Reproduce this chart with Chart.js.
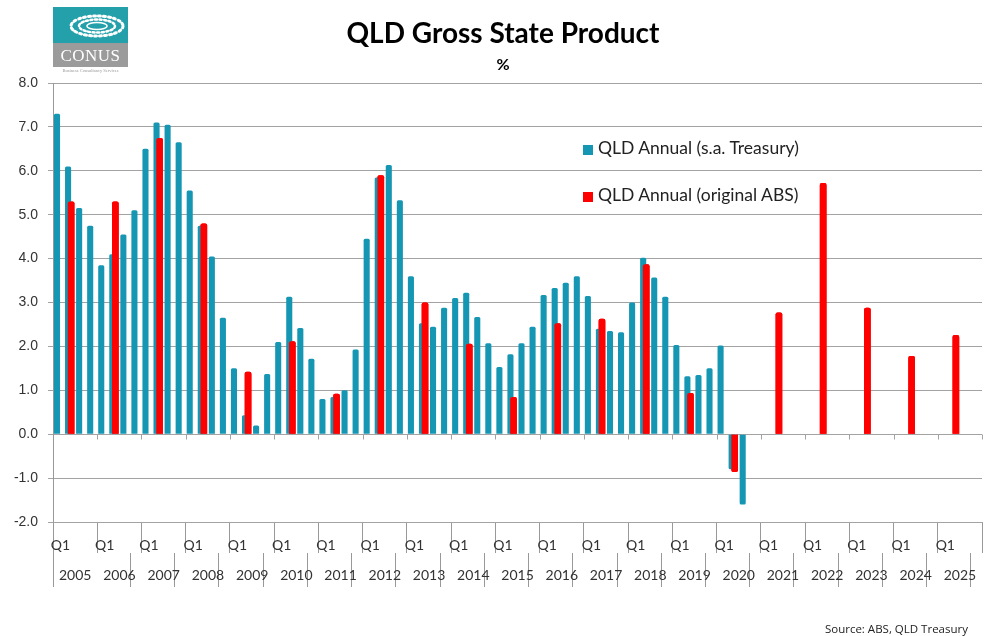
<!DOCTYPE html>
<html>
<head>
<meta charset="utf-8">
<script src="https://cdn.jsdelivr.net/npm/chart.js@4.4.1/dist/chart.umd.min.js"></script>
<style>
html,body{margin:0;padding:0;background:#fff;}
#wrap{position:relative;width:991px;height:636px;overflow:hidden;font-family:Lato,"Open Sans",sans-serif;}
#c{position:absolute;left:0;top:0;}
#title{position:absolute;left:253px;width:500px;top:15px;text-align:center;font-weight:bold;font-size:28px;color:#000;line-height:34px;}
#sub{position:absolute;left:453px;width:100px;top:54px;text-align:center;font-weight:bold;font-size:16px;color:#000;line-height:20px;}
#legend{position:absolute;left:583px;top:136px;}
.li{position:absolute;left:0;white-space:nowrap;font-size:17.5px;color:#222;line-height:24px;height:24px;}
.li span.sw{display:inline-block;width:10px;height:10px;margin-right:5px;vertical-align:-1px;}
#source{position:absolute;right:23px;top:621px;font-size:11.5px;color:#222;font-family:"Open Sans",Lato,sans-serif;}
#logo{position:absolute;left:53px;top:7px;width:75px;}
#logo .top{height:36px;background:#24a0ab;}
#logo .mid{height:24px;background:#9b9b9b;color:#fff;font-family:"Liberation Serif",serif;font-size:17px;text-align:center;line-height:25px;letter-spacing:0.5px;}
#logo .tag{font-size:4.5px;color:#999;text-align:center;line-height:8px;font-family:"Liberation Serif",serif;}
</style>
</head>
<body>
<div id="wrap">
<canvas id="c" width="991" height="636"></canvas>
<div id="title">QLD Gross State Product</div>
<div id="sub">%</div>
<div id="legend"></div>
<div id="source">Source: ABS, QLD Treasury</div>
<div id="logo">
  <div class="top"><svg width="75" height="36" viewBox="0 0 75 36">
    <g fill="none" stroke="#fff" stroke-linecap="round">
      <ellipse cx="44" cy="19" rx="26" ry="10" stroke-width="3" stroke-dasharray="2 3"/>
      <ellipse cx="44" cy="19" rx="18" ry="6.5" stroke-width="2.5" stroke-dasharray="2 2.5"/>
      <ellipse cx="44" cy="19" rx="10" ry="3.5" stroke-width="1.5"/>
    </g></svg></div>
  <div class="mid">CONUS</div>
  <div class="tag">Business Consultancy Services</div>
</div>
</div>
<script>
// ---- data ----
const years = ['2005','2006','2007','2008','2009','2010','2011','2012','2013','2014','2015','2016','2017','2018','2019','2020','2021','2022','2023','2024','2025'];
const quarters = ['Q1','Q2','Q3','Q4'];
// QLD Annual (s.a. Treasury), quarterly from 2005 Q1
const tealValues = [
  7.3, 6.1, 5.15, 4.75,
  3.85, 4.1, 4.55, 5.1,
  6.5, 7.1, 7.05, 6.65,
  5.55, 4.75, 4.05, 2.65,
  1.5, 0.43, 0.2, 1.37,
  2.1, 3.13, 2.42, 1.72,
  0.8, 0.85, 1.0, 1.93,
  4.45, 5.85, 6.13, 5.33,
  3.6, 2.53, 2.45, 2.88,
  3.1, 3.22, 2.67, 2.07,
  1.53, 1.82, 2.07, 2.45,
  3.17, 3.33, 3.45, 3.6,
  3.15, 2.4, 2.35, 2.32,
  3.0, 4.02, 3.57, 3.13,
  2.03, 1.32, 1.35, 1.5,
  2.02, -0.8, -1.6
];
// QLD Annual (original ABS), one value per year (plotted at Q2)
const redValues = [5.3, 5.3, 6.75, 4.8, 1.42, 2.12, 0.92, 5.9, 3.0, 2.06, 0.85, 2.53, 2.63, 3.87, 0.94, -0.86, 2.77, 5.72, 2.88, 1.78, 2.26];
const seriesNames = ['QLD Annual (s.a. Treasury)', 'QLD Annual (original ABS)'];
const yTicks = [-2, -1, 0, 1, 2, 3, 4, 5, 6, 7, 8];

// ---- build tables ----
const quarterLabels = [];
years.forEach(y => quarters.forEach(q => quarterLabels.push(y + ' ' + q)));
const tealData = quarterLabels.map((_, i) => i < tealValues.length ? tealValues[i] : null);
const redData = quarterLabels.map((_, i) => (i % 4 === 1) ? redValues[Math.floor(i / 4)] : null);

const TEAL = '#1597b4';
const RED = '#ff0000';
const GRID = '#a3a3a3';
const AXISLINE = '#999999';
const LABEL = '#333333';
const colors = [TEAL, RED];

const overlay = {
  id: 'overlay',
  afterDatasetsDraw(chart) {
    const ctx = chart.ctx;
    const a = chart.chartArea;
    // red series on top of teal
    ctx.save();
    ctx.beginPath(); ctx.rect(a.left, a.top, a.width, a.height); ctx.clip();
    chart.getDatasetMeta(1).controller.draw();
    ctx.restore();
    // small tick marks on the zero line at year boundaries
    const xs = chart.scales.x, ys = chart.scales.y;
    const y0 = Math.round(ys.getPixelForValue(0)) + 0.5;
    const half = xs.width / quarterLabels.length / 2;
    ctx.save();
    ctx.strokeStyle = GRID; ctx.lineWidth = 1;
    ctx.beginPath();
    for (let i = 4; i <= quarterLabels.length; i += 4) {
      const px = Math.round(xs.getPixelForValue(i) - half) + 0.5;
      ctx.moveTo(px, y0); ctx.lineTo(px, y0 + 5);
    }
    ctx.stroke();
    ctx.restore();
  }
};

new Chart(document.getElementById('c'), {
  type: 'bar',
  data: {
    labels: quarterLabels,
    datasets: [
      { label: seriesNames[0], data: tealData, backgroundColor: TEAL, barPercentage: 2.0, categoryPercentage: 0.55, borderRadius: 1.5, borderSkipped: 'start', xAxisID: 'x' },
      { label: seriesNames[1], data: redData, backgroundColor: RED, barPercentage: 2.2, categoryPercentage: 0.55, borderRadius: 2, borderSkipped: 'start', xAxisID: 'x' }
    ]
  },
  options: {
    responsive: false,
    devicePixelRatio: 1,
    animation: false,
    events: [],
    layout: { padding: { left: 0, right: 9, top: 83, bottom: 48 } },
    plugins: { legend: { display: false }, tooltip: { enabled: false }, title: { display: false } },
    scales: {
      y: {
        min: -2, max: 8,
        afterFit(axis) { axis.width = 53; },
        afterBuildTicks(axis) { axis.ticks = yTicks.map(v => ({ value: v })); },
        ticks: { callback: v => Number(v).toFixed(1), color: LABEL, padding: 10, font: { family: 'Liberation Sans', size: 14 } },
        grid: { color: GRID, lineWidth: 1, tickLength: 5 },
        border: { color: AXISLINE, width: 1 }
      },
      x: {
        type: 'category',
        position: 'bottom',
        weight: 0,
        offset: true,
        afterFit(axis) { axis.height = 31; },
        ticks: {
          autoSkip: false, maxRotation: 0, minRotation: 0,
          callback(v, i) { return i % 4 === 0 ? quarters[0] : ''; },
          color: LABEL, padding: -16, labelOffset: 2,
          font: { family: 'Lato', size: 14 }
        },
        grid: {
          offset: true, drawOnChartArea: false, tickLength: 31, lineWidth: 1,
          color(ctx) { return (ctx.type !== 'tick' || ctx.index % 4 === 0) ? AXISLINE : 'rgba(0,0,0,0)'; }
        },
        border: { color: GRID, width: 1 }
      },
      x2: {
        type: 'linear',
        axis: 'x',
        position: 'bottom',
        weight: 1,
        offset: false,
        min: 0, max: years.length,
        afterFit(axis) { axis.height = 35; },
        afterBuildTicks(axis) {
          const t = [{ value: 0 }];
          years.forEach((y, k) => t.push({ value: k + 0.75 }));
          axis.ticks = t;
        },
        ticks: {
          autoSkip: false, maxRotation: 0, minRotation: 0,
          callback(v, i) { return i === 0 ? '' : years[i - 1]; },
          color: LABEL, padding: -20, labelOffset: -11,
          font: { family: 'Lato', size: 14 }
        },
        grid: {
          display: true, offset: false, drawOnChartArea: false, drawTicks: true, tickLength: 34, lineWidth: 1,
          color(ctx) { return (ctx.type === 'tick' && ctx.index === 1) ? 'rgba(0,0,0,0)' : AXISLINE; }
        },
        border: { display: false }
      }
    }
  },
  plugins: [overlay]
});

// legend from series names/colours
const lg = document.getElementById('legend');
seriesNames.forEach((n, i) => {
  const d = document.createElement('div');
  d.className = 'li';
  d.style.top = (i * 47) + 'px';
  d.innerHTML = '<span class="sw" style="background:' + colors[i] + '"></span>';
  d.appendChild(document.createTextNode(n));
  lg.appendChild(d);
});
</script>
</body>
</html>
